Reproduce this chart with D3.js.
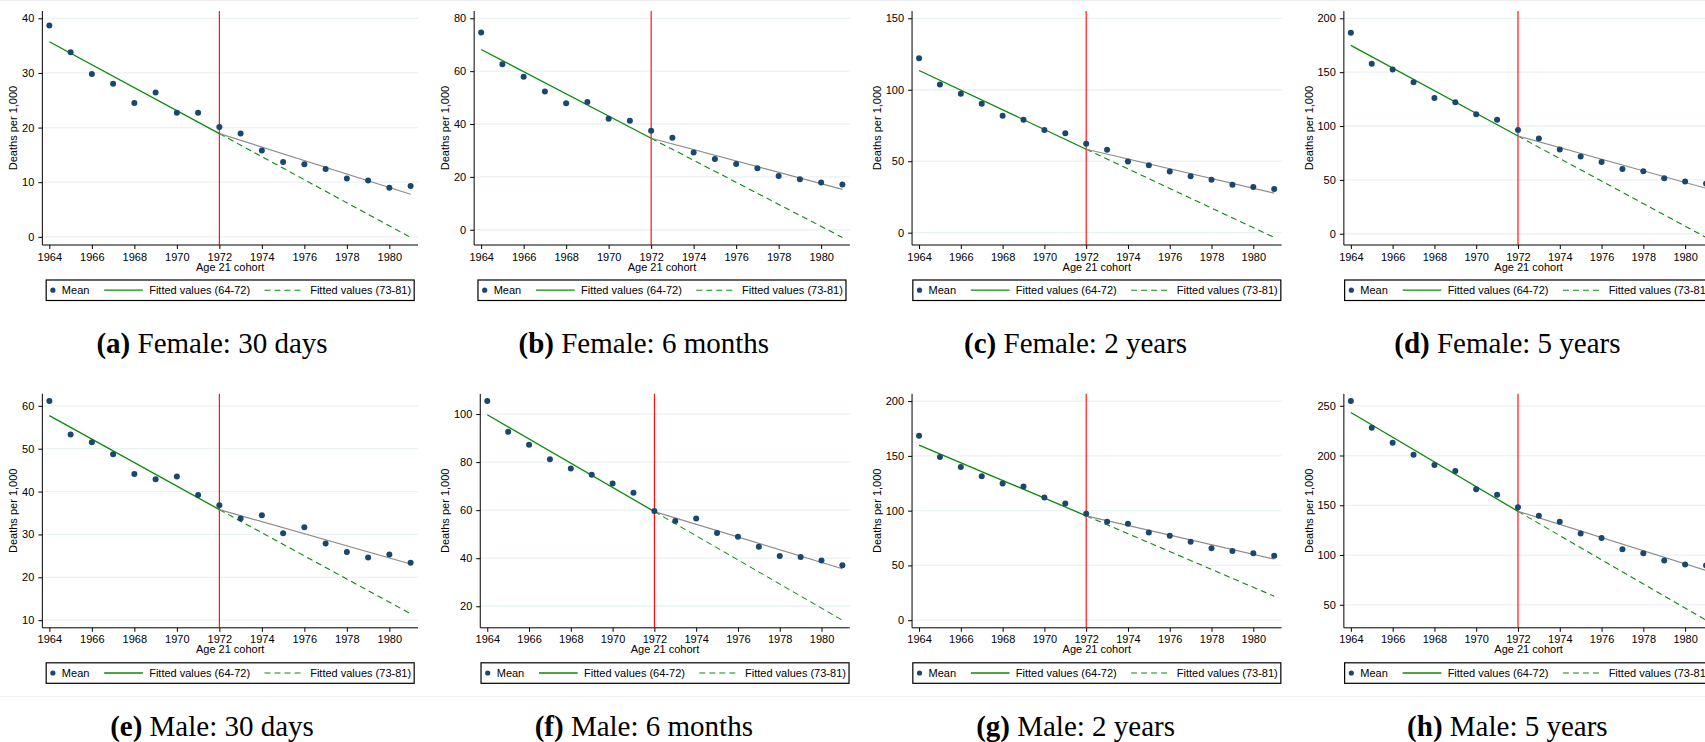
<!DOCTYPE html>
<html>
<head>
<meta charset="utf-8">
<script src="https://cdn.jsdelivr.net/npm/d3@7"></script>
<style>
  body { margin: 0; background: #fff; }
  svg { display: block; }
</style>
</head>
<body>
<svg id="fig" width="1705" height="742"></svg>
<script>
// Birth cohorts (age 21 in year)
const cohorts = [1964, 1965, 1966, 1967, 1968, 1969, 1970, 1971, 1972,
                 1973, 1974, 1975, 1976, 1977, 1978, 1979, 1980, 1981];
const xTicks = [1964, 1966, 1968, 1970, 1972, 1974, 1976, 1978, 1980];

// Mean deaths per 1,000 by cohort
const female30d = [38.7, 33.8, 29.8, 28.0, 24.5, 26.4, 22.7, 22.7, 20.1, 18.9, 15.8, 13.7, 13.3, 12.4, 10.7, 10.3, 9.0, 9.3];
const female6m  = [74.6, 62.6, 57.9, 52.3, 47.9, 48.3, 42.0, 41.2, 37.5, 34.8, 29.2, 26.8, 24.9, 23.3, 20.3, 19.1, 17.9, 17.1];
const female2y  = [122.1, 103.7, 97.2, 90.2, 81.9, 79.1, 71.9, 69.5, 62.3, 58.1, 49.8, 47.2, 42.8, 39.5, 37.0, 33.5, 31.9, 30.5];
const female5y  = [186.6, 157.8, 152.5, 140.7, 126.1, 122.0, 110.9, 105.9, 96.3, 88.5, 78.3, 71.7, 66.5, 60.2, 58.1, 51.6, 48.4, 46.6];
const male30d   = [61.1, 53.3, 51.5, 48.7, 44.1, 42.9, 43.5, 39.2, 36.8, 33.7, 34.5, 30.3, 31.7, 27.9, 25.9, 24.6, 25.3, 23.4];
const male6m    = [105.4, 92.6, 87.2, 81.2, 77.3, 74.7, 71.1, 67.2, 59.7, 55.5, 56.5, 50.5, 48.9, 44.8, 40.9, 40.5, 39.1, 37.1];
const male2y    = [168.4, 149.0, 139.9, 131.4, 124.7, 122.0, 112.0, 106.5, 97.1, 89.8, 88.0, 80.1, 77.1, 71.6, 65.6, 63.1, 61.0, 58.9];
const male5y    = [254.7, 228.0, 212.8, 200.7, 190.5, 184.5, 166.2, 160.5, 148.0, 139.5, 133.4, 121.6, 117.2, 105.7, 101.7, 94.6, 90.5, 89.5];

// Fitted values: pre-period fit at 1964 and at the 1972 kink,
// post-period fit at 1981, and the pre-period trend extended to 1981
const fit1964      = [35.7, 68.2, 113.5, 174.8, 57.7, 99.7, 159.9, 243.2];
const fit1972      = [18.9, 34.6, 58.4, 90.7, 35.8, 59.4, 95.3, 143.9];
const fitPost1981  = [7.8, 15.3, 27.7, 42.2, 23.1, 35.6, 55.8, 84.5];
const trend1981    = [-0.1, -2.9, -3.3, -3.4, 11.5, 14.2, 21.9, 34.5];

// Y-axis tick labels per panel
const yTicksA = [0, 10, 20, 30, 40];
const yTicksB = [0, 20, 40, 60, 80];
const yTicksC = [0, 50, 100, 150];
const yTicksD = [0, 50, 100, 150, 200];
const yTicksE = [10, 20, 30, 40, 50, 60];
const yTicksF = [20, 40, 60, 80, 100];
const yTicksG = [0, 50, 100, 150, 200];
const yTicksH = [50, 100, 150, 200, 250];

const panelLetters = ["a", "b", "c", "d", "e", "f", "g", "h"];
const panelTitles = ["Female: 30 days", "Female: 6 months", "Female: 2 years", "Female: 5 years",
                     "Male: 30 days", "Male: 6 months", "Male: 2 years", "Male: 5 years"];
const legendLabels = ["Mean", "Fitted values (64-72)", "Fitted values (73-81)"];
const xTitle = "Age 21 cohort";
const yTitle = "Deaths per 1,000";

const seriesList = [female30d, female6m, female2y, female5y, male30d, male6m, male2y, male5y];
const yTickList = [yTicksA, yTicksB, yTicksC, yTicksD, yTicksE, yTicksF, yTicksG, yTicksH];

const SANS = "'Liberation Sans', Arial, Helvetica, sans-serif";
const SERIF = "'Liberation Serif', 'Times New Roman', Times, serif";
const NAVY = "#1a476f", GREEN = "#0a8a0a", RED = "#ff0000", GRAY = "#8c8c8c", GRID = "#eaf2f3";

const svg = d3.select("#fig");

// Faint frame lines of the figure grid
svg.append("line").attr("x1", 0).attr("x2", 1705).attr("y1", 0.5).attr("y2", 0.5)
   .attr("stroke", "#ececec").attr("stroke-width", 1);
svg.append("line").attr("x1", 0).attr("x2", 1705).attr("y1", 696.5).attr("y2", 696.5)
   .attr("stroke", "#f0f0f0").attr("stroke-width", 1);

const colStep = 431.8, rowStep = 382.8;
const plotTop = 11, plotBottom = 245, plotRight = 418;

seriesList.forEach((mean, i) => {
  const col = i % 4, row = Math.floor(i / 4);
  const g = svg.append("g").attr("transform", `translate(${col * colStep},${row * rowStep})`);
  const yTicks = yTickList[i];
  const fmt = d3.format(",");

  // Width of the widest y tick label decides where the axis sits
  const probe = g.append("text").attr("font-size", 11).attr("font-family", SANS);
  let maxW = 0;
  yTicks.forEach(t => { probe.text(fmt(t)); maxW = Math.max(maxW, probe.node().getComputedTextLength()); });
  probe.remove();
  const axisX = 22.1 + maxW + 8;

  const x = d3.scaleLinear().domain([cohorts[0], cohorts[cohorts.length - 1]])
              .range([axisX + 7, plotRight - 7.4]);
  const allVals = mean.concat(yTicks, [fit1964[i], fit1972[i], fitPost1981[i], trend1981[i]]);
  const y = d3.scaleLinear().domain(d3.extent(allVals))
              .range([plotBottom - 7.6, plotTop + 7.3]);

  // Gridlines
  g.append("g").selectAll("line").data(yTicks).join("line")
    .attr("x1", axisX).attr("x2", plotRight)
    .attr("y1", d => y(d)).attr("y2", d => y(d))
    .attr("stroke", GRID).attr("stroke-width", 1.3);

  // Y axis
  const yAxis = g.append("g").attr("transform", `translate(${axisX},0)`)
    .call(d3.axisLeft(y).tickValues(yTicks).tickFormat(fmt).tickSize(4).tickPadding(4).tickSizeOuter(0));
  yAxis.select(".domain").remove();
  yAxis.selectAll("text").attr("font-size", 11).attr("font-family", SANS).attr("fill", "#000");
  yAxis.selectAll(".tick line").attr("stroke", "#000");
  g.append("line").attr("x1", axisX).attr("x2", axisX).attr("y1", plotTop).attr("y2", plotBottom)
    .attr("stroke", "#000").attr("stroke-width", 1);

  // X axis
  const xAxis = g.append("g").attr("transform", `translate(0,${plotBottom})`)
    .call(d3.axisBottom(x).tickValues(xTicks).tickFormat(d3.format("d")).tickSize(4).tickPadding(3.7).tickSizeOuter(0));
  xAxis.select(".domain").remove();
  xAxis.selectAll("text").attr("font-size", 11).attr("font-family", SANS).attr("fill", "#000");
  xAxis.selectAll(".tick line").attr("stroke", "#000");
  g.append("line").attr("x1", axisX).attr("x2", plotRight).attr("y1", plotBottom).attr("y2", plotBottom)
    .attr("stroke", "#000").attr("stroke-width", 1);

  // Axis titles
  const midX = (axisX + plotRight) / 2;
  g.append("text").attr("x", midX).attr("y", 270.7).attr("text-anchor", "middle")
    .attr("font-size", 11).attr("font-family", SANS).text(xTitle);
  g.append("text").attr("transform", `translate(17.3,${(plotTop + plotBottom) / 2}) rotate(-90)`)
    .attr("text-anchor", "middle").attr("font-size", 11).attr("font-family", SANS).text(yTitle);

  // Cut-off at 1972
  g.append("line").attr("x1", x(1972)).attr("x2", x(1972)).attr("y1", plotTop).attr("y2", plotBottom)
    .attr("stroke", RED).attr("stroke-width", 1.1);

  // Fitted lines
  const line = d3.line().x(d => x(d[0])).y(d => y(d[1]));
  g.append("path").attr("d", line([[1972, fit1972[i]], [1981, trend1981[i]]]))
    .attr("fill", "none").attr("stroke", GREEN).attr("stroke-width", 1.1).attr("stroke-dasharray", "6,4");
  g.append("path").attr("d", line([[1972, fit1972[i]], [1981, fitPost1981[i]]]))
    .attr("fill", "none").attr("stroke", GRAY).attr("stroke-width", 1.2);
  g.append("path").attr("d", line([[1964, fit1964[i]], [1972, fit1972[i]]]))
    .attr("fill", "none").attr("stroke", GREEN).attr("stroke-width", 1.3);

  // Means
  g.append("g").selectAll("circle").data(mean).join("circle")
    .attr("cx", (d, k) => x(cohorts[k])).attr("cy", d => y(d)).attr("r", 3)
    .attr("fill", NAVY);

  // Legend
  const lx = midX - 184, ly = 280;
  const lg = g.append("g").attr("transform", `translate(${lx},${ly})`);
  lg.append("rect").attr("x", 0).attr("y", 0).attr("width", 368).attr("height", 20.5)
    .attr("fill", "#fff").attr("stroke", "#000").attr("stroke-width", 1.2);
  lg.append("circle").attr("cx", 6.7).attr("cy", 10.2).attr("r", 2.6).attr("fill", NAVY);
  lg.append("line").attr("x1", 58).attr("x2", 96.7).attr("y1", 10.2).attr("y2", 10.2)
    .attr("stroke", GREEN).attr("stroke-width", 1.3);
  lg.append("line").attr("x1", 218.3).attr("x2", 257.3).attr("y1", 10.2).attr("y2", 10.2)
    .attr("stroke", GREEN).attr("stroke-width", 1.1).attr("stroke-dasharray", "6,4");
  [[15.7, legendLabels[0]], [103, legendLabels[1]], [264, legendLabels[2]]].forEach(([tx, label]) => {
    lg.append("text").attr("x", tx).attr("y", 14.2).attr("font-size", 11)
      .attr("font-family", SANS).attr("fill", "#000").text(label);
  });

  // Sub-figure caption
  const cap = g.append("text").attr("x", 212).attr("y", 353.3).attr("text-anchor", "middle")
    .attr("font-size", 29).attr("font-family", SERIF).attr("fill", "#000");
  cap.append("tspan").attr("font-weight", "bold").text(`(${panelLetters[i]})`);
  cap.append("tspan").text(` ${panelTitles[i]}`);
});
</script>
</body>
</html>
